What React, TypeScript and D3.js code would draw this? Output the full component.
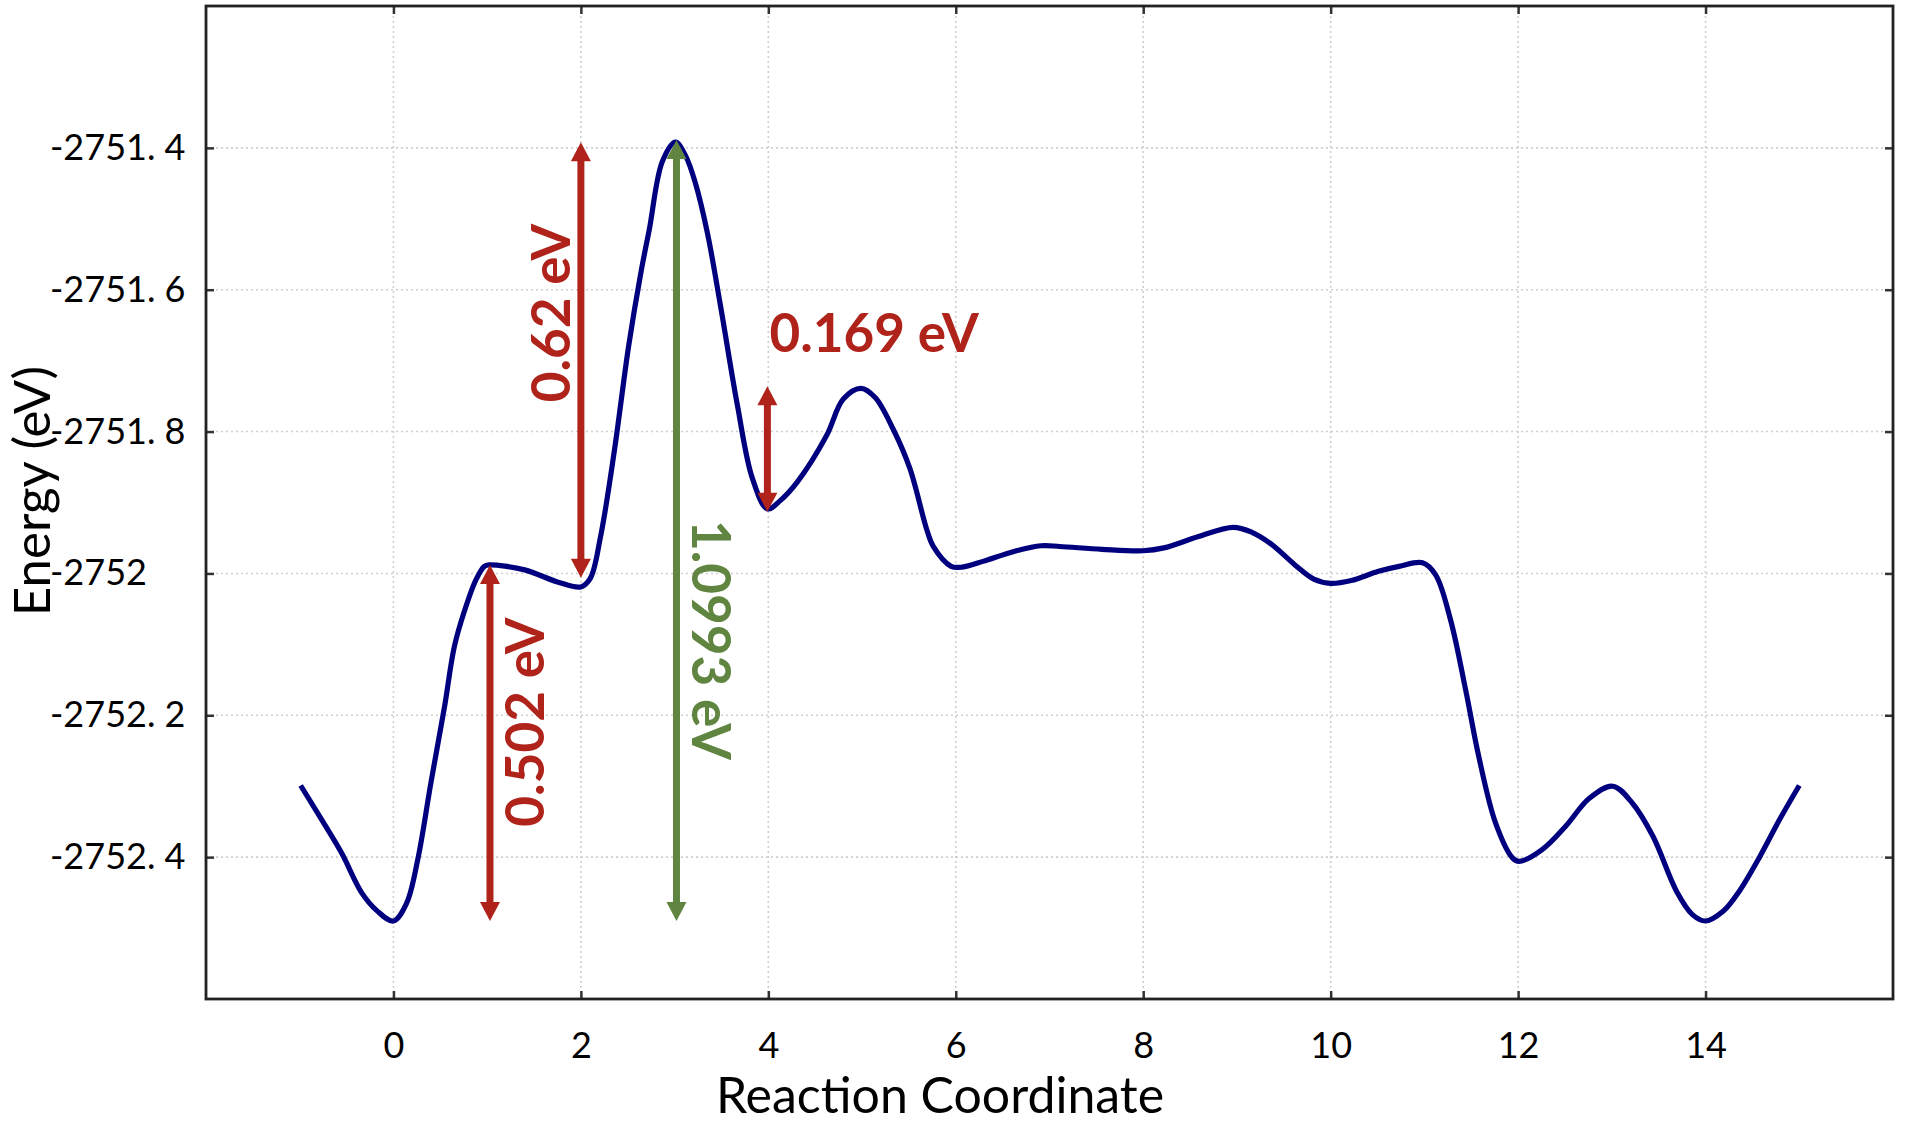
import React, { useEffect, useRef } from 'react';
import * as d3 from 'd3';

// reaction coordinate (image index) and total energy
const coordX = [
  -0.99, -0.73, -0.55, -0.34, -0.18, 0, 0.14, 0.26, 0.4, 0.545, 0.65, 0.76, 0.88, 0.97, 1.02,
  1.4, 1.75, 2.0, 2.1, 2.21, 2.355, 2.51, 2.64, 2.73, 2.87, 3.01, 3.12, 3.22, 3.35, 3.49,
  3.67, 3.83, 3.99, 4.13, 4.31, 4.62, 4.8, 4.99, 5.14, 5.33, 5.51, 5.69, 5.76, 5.95, 6.07,
  6.29, 6.62, 6.91, 7.11, 7.56, 8.0, 8.22, 8.59, 8.96, 9.16, 9.37, 9.61, 9.82, 10.0, 10.22,
  10.51, 10.73, 10.98, 11.12, 11.28, 11.44, 11.58, 11.76, 11.94, 12.01, 12.26, 12.51, 12.76,
  13.01, 13.22, 13.44, 13.69, 13.86, 14.0, 14.19, 14.36, 14.58, 14.79, 15.0,
];
const energy = [
  -2752.299, -2752.355, -2752.395, -2752.45, -2752.475, -2752.49, -2752.465, -2752.403,
  -2752.295, -2752.188, -2752.103, -2752.052, -2752.009, -2751.99, -2751.988,
  -2751.995, -2752.012, -2752.019, -2752.007, -2751.948, -2751.829, -2751.679, -2751.576,
  -2751.515, -2751.419, -2751.392, -2751.412, -2751.449, -2751.52, -2751.623,
  -2751.763, -2751.866, -2751.909, -2751.897, -2751.871, -2751.806, -2751.754, -2751.739,
  -2751.752, -2751.796, -2751.852, -2751.938, -2751.962, -2751.99, -2751.991,
  -2751.983, -2751.969, -2751.961, -2751.962, -2751.966, -2751.968, -2751.964, -2751.948,
  -2751.935, -2751.942, -2751.959, -2751.987, -2752.008, -2752.014, -2752.01,
  -2751.997, -2751.99, -2751.985, -2752.002, -2752.066, -2752.164, -2752.258, -2752.352,
  -2752.401, -2752.406, -2752.389, -2752.356, -2752.317,
  -2752.3, -2752.324, -2752.371, -2752.448, -2752.481, -2752.49, -2752.476, -2752.448,
  -2752.399, -2752.347, -2752.299,
];

const xTicks = [0, 2, 4, 6, 8, 10, 12, 14];
const yTicks = [-2752.4, -2752.2, -2752, -2751.8, -2751.6, -2751.4];
const yTickLabels = ['-2752. 4', '-2752. 2', '-2752', '-2751. 8', '-2751. 6', '-2751. 4'];

// energy differences marked with double arrows
const barrierX = [1.03, 2.0, 3.02, 3.99];
const barrierFrom = [-2752.49, -2752.006, -2752.49, -2751.913];
const barrierTo = [-2751.988, -2751.392, -2751.389, -2751.736];
const barrierText = ['0.502 eV', '0.62 eV', '1.0993 eV', '0.169 eV'];

const RED = '#b0231b';
const GREEN = '#5f8541';
const barrierColor = [RED, RED, GREEN, RED];

const W = 1913;
const H = 1125;
const margin = { top: 6, right: 20, bottom: 126, left: 206 };
const FONT = 'Lato, "Open Sans", sans-serif';

const App: React.FC = () => {
  const ref = useRef<SVGSVGElement>(null);

  useEffect(() => {
    if (!ref.current) return;
    const svg = d3.select(ref.current);
    svg.selectAll('*').remove();

    const width = W - margin.left - margin.right;
    const height = H - margin.top - margin.bottom;

    const x = d3.scaleLinear().domain([-2, 16]).range([0, width]);
    const y = d3.scaleLinear().domain([-2752.6, -2751.2]).range([height, 0]);

    svg.append('rect').attr('width', W).attr('height', H).attr('fill', '#fff');

    const g = svg.append('g').attr('transform', `translate(${margin.left},${margin.top})`);

    // dotted grid
    const grid = g.append('g').attr('stroke', '#cfcfcf').attr('stroke-width', 1.6)
      .attr('stroke-dasharray', '2,3');
    grid.selectAll('.gx').data(xTicks).join('line')
      .attr('x1', d => x(d)).attr('x2', d => x(d)).attr('y1', 0).attr('y2', height);
    grid.selectAll('.gy').data(yTicks).join('line')
      .attr('y1', d => y(d)).attr('y2', d => y(d)).attr('x1', 0).attr('x2', width);

    // axes with inward ticks
    const styleAxis = (sel: d3.Selection<SVGGElement, unknown, null, undefined>) => {
      sel.select('.domain').remove();
      sel.selectAll('.tick line').attr('stroke', '#333').attr('stroke-width', 2.5);
      sel.selectAll('text').attr('fill', '#000').style('font-family', FONT).style('font-size', '36px');
    };

    const bottom = g.append('g').attr('transform', `translate(0,${height})`)
      .call(d3.axisBottom(x).tickValues(xTicks).tickSize(-8).tickPadding(33).tickFormat(d3.format('d')));
    styleAxis(bottom);

    g.append('g').call(d3.axisTop(x).tickValues(xTicks).tickSize(-8).tickFormat(() => ''))
      .call(styleAxis);

    const left = g.append('g')
      .call(d3.axisLeft(y).tickValues(yTicks).tickSize(-8).tickFormat((_, i) => yTickLabels[i]));
    styleAxis(left);
    left.selectAll('text').attr('text-anchor', 'start').attr('x', 50 - margin.left);

    g.append('g').attr('transform', `translate(${width},0)`)
      .call(d3.axisRight(y).tickValues(yTicks).tickSize(-8).tickFormat(() => ''))
      .call(styleAxis);

    // frame
    g.append('rect').attr('width', width).attr('height', height)
      .attr('fill', 'none').attr('stroke', '#222').attr('stroke-width', 2.8);

    // energy curve
    const pts = coordX.map((c, i) => [c, energy[i]] as [number, number]);
    const line = d3.line<[number, number]>().x(d => x(d[0])).y(d => y(d[1]))
      .curve(d3.curveCatmullRom.alpha(0.5));
    g.append('path').datum(pts)
      .attr('fill', 'none').attr('stroke', '#00007f').attr('stroke-width', 5.2)
      .attr('stroke-linejoin', 'round').attr('d', line);

    // double arrows
    const head = 19;
    const half = 10;
    barrierX.forEach((bx, i) => {
      const cx = x(bx);
      const yLow = y(barrierFrom[i]);
      const yHigh = y(barrierTo[i]);
      const col = barrierColor[i];
      g.append('line').attr('x1', cx).attr('x2', cx)
        .attr('y1', yHigh + head - 2).attr('y2', yLow - head + 2)
        .attr('stroke', col).attr('stroke-width', 7);
      g.append('path').attr('fill', col)
        .attr('d', `M${cx},${yHigh}L${cx - half},${yHigh + head}L${cx + half},${yHigh + head}Z`);
      g.append('path').attr('fill', col)
        .attr('d', `M${cx},${yLow}L${cx - half},${yLow - head}L${cx + half},${yLow - head}Z`);
    });

    // arrow labels: [dx from arrow, y in px, rotation, anchor]
    const labelPlacement: [number, number, number, string][] = [
      [54, 722 - margin.top, -90, 'middle'],
      [-11, 313 - margin.top, -90, 'middle'],
      [16, 640 - margin.top, 90, 'middle'],
      [2, 352 - margin.top, 0, 'start'],
    ];
    barrierText.forEach((t, i) => {
      const [dx, py, rot, anchor] = labelPlacement[i];
      g.append('text')
        .attr('transform', `translate(${x(barrierX[i]) + dx},${py}) rotate(${rot})`)
        .attr('text-anchor', anchor)
        .attr('fill', barrierColor[i])
        .style('font-family', FONT).style('font-weight', 700).style('font-size', '53px')
        .text(t);
    });

    // axis titles
    svg.append('text')
      .attr('transform', `translate(50,491) rotate(-90)`)
      .attr('text-anchor', 'middle')
      .style('font-family', FONT).style('font-size', '51px')
      .text('Energy (eV)');
    svg.append('text')
      .attr('x', 940).attr('y', 1113)
      .attr('text-anchor', 'middle')
      .style('font-family', FONT).style('font-size', '50px')
      .text('Reaction Coordinate');
  }, []);

  return (
    <svg
      ref={ref}
      width={W}
      height={H}
      style={{ position: 'absolute', left: 0, top: 0, display: 'block' }}
    />
  );
};

export default App;
